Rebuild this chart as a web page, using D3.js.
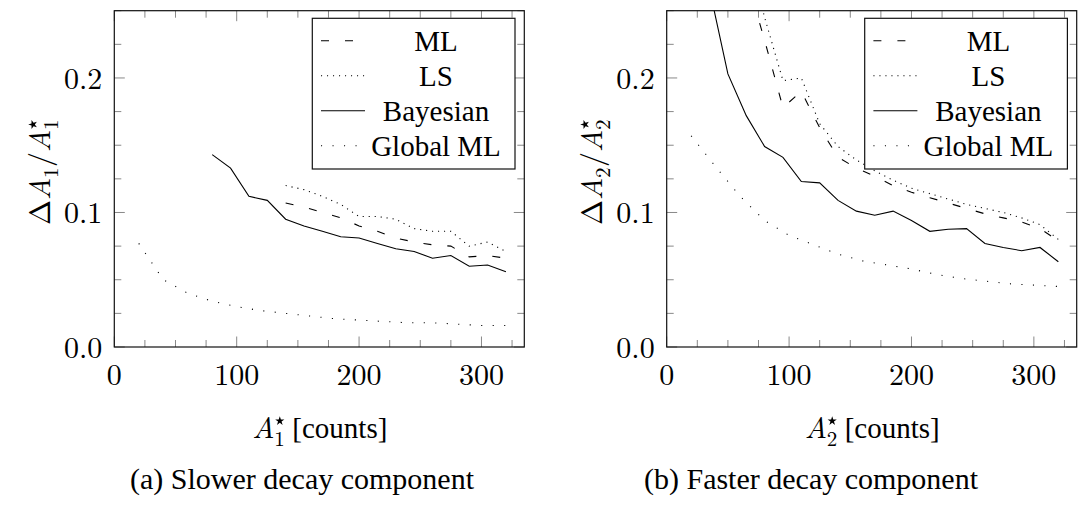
<!DOCTYPE html>
<html>
<head>
<meta charset="utf-8">
<script src="https://cdn.jsdelivr.net/npm/d3@7"></script>
<style>
  body { margin: 0; background: #fff; }
  svg { display: block; }
</style>
</head>
<body>
<svg id="chart" width="1079" height="505"></svg>
<script>
// (a) slower decay component
const slowMLX = [140, 155, 170, 185, 200, 215, 230, 245, 260, 275, 290, 305, 320];
const slowMLY = [0.107, 0.104, 0.100, 0.096, 0.090, 0.086, 0.081, 0.078, 0.076, 0.075, 0.067, 0.068, 0.066];
const slowLSX = [140, 155, 170, 185, 200, 215, 230, 245, 260, 275, 290, 305, 320];
const slowLSY = [0.120, 0.117, 0.112, 0.106, 0.097, 0.097, 0.095, 0.088, 0.086, 0.086, 0.075, 0.078, 0.071];
const slowBayesX = [80, 95, 110, 125, 140, 155, 170, 185, 200, 215, 230, 245, 260, 275, 290, 305, 320];
const slowBayesY = [0.143, 0.133, 0.112, 0.109, 0.095, 0.090, 0.086, 0.082, 0.081, 0.077, 0.073, 0.071, 0.066, 0.068, 0.060, 0.061, 0.056];
const slowGlobalX = [20, 40, 60, 80, 100, 120, 140, 160, 180, 200, 220, 240, 260, 280, 300, 320];
const slowGlobalY = [0.077, 0.050, 0.040, 0.034, 0.030, 0.027, 0.025, 0.023, 0.021, 0.020, 0.019, 0.018, 0.018, 0.017, 0.016, 0.016];

// (b) faster decay component
const fastMLX = [65, 80, 95, 110, 125, 140, 155, 170, 185, 200, 215, 230, 245, 260, 275, 290, 305, 320];
const fastMLY = [0.275, 0.228, 0.178, 0.190, 0.163, 0.141, 0.133, 0.127, 0.120, 0.115, 0.111, 0.107, 0.103, 0.099, 0.096, 0.093, 0.088, 0.079];
const fastLSX = [65, 80, 95, 110, 125, 140, 155, 170, 185, 200, 215, 230, 245, 260, 275, 290, 305, 320];
const fastLSY = [0.300, 0.245, 0.198, 0.200, 0.166, 0.149, 0.139, 0.131, 0.124, 0.118, 0.114, 0.110, 0.106, 0.103, 0.100, 0.096, 0.091, 0.080];
const fastBayesX = [35, 50, 65, 80, 95, 110, 125, 140, 155, 170, 185, 200, 215, 230, 245, 260, 275, 290, 305, 320];
const fastBayesY = [0.266, 0.203, 0.172, 0.149, 0.141, 0.123, 0.122, 0.109, 0.101, 0.098, 0.101, 0.094, 0.086, 0.0875, 0.088, 0.077, 0.074, 0.0716, 0.074, 0.0634];
const fastGlobalX = [20, 40, 60, 80, 100, 120, 140, 160, 180, 200, 220, 240, 260, 280, 300, 320];
const fastGlobalY = [0.157, 0.134, 0.112, 0.094, 0.083, 0.076, 0.069, 0.064, 0.061, 0.058, 0.054, 0.051, 0.049, 0.047, 0.046, 0.045];

const legendNames = ['ML', 'LS', 'Bayesian', 'Global ML'];
const xTicks = [0, 100, 200, 300];
const yTicks = [0, 0.1, 0.2];
const captions = ['(a) Slower decay component', '(b) Faster decay component'];

const styles = [
    { dash: '8,16' },      // ML, loosely dashed
    { dash: '1.1,4.9' },   // LS, dotted
    { dash: null },        // Bayesian, solid
    { dash: '1.1,10.4' }   // Global ML, loosely dotted
];

const panels = [
    {
        left: 114.3, idx: '1', yLabelX: 50, captionX: 302,
        series: [[slowMLX, slowMLY], [slowLSX, slowLSY], [slowBayesX, slowBayesY], [slowGlobalX, slowGlobalY]]
    },
    {
        left: 666.7, idx: '2', yLabelX: 602, captionX: 811,
        series: [[fastMLX, fastMLY], [fastLSX, fastLSY], [fastBayesX, fastBayesY], [fastGlobalX, fastGlobalY]]
    }
];

const MATH = '"Latin Modern Roman"';
const TEXT = '"Liberation Serif"';
const svg = d3.select('#chart');
const plotTop = 10.7, plotBottom = 347, plotW = 410;
const fs = 30;
const star = d3.symbol(d3.symbolStar, 26);

// subscript index with a star stacked above it (as in A^\star_i)
function stacked(g, xPos, yPos, sub) {
    g.append('text').attr('x', xPos).attr('y', yPos + 8).attr('font-family', MATH)
        .attr('font-size', fs * 0.7).text(sub);
    g.append('path').attr('d', star).attr('fill', '#000')
        .attr('transform', `translate(${xPos + 5.5},${yPos - 17})`);
}

panels.forEach((p, pi) => {
    const x = d3.scaleLinear().domain([0, 335]).range([p.left, p.left + plotW]);
    const y = d3.scaleLinear().domain([0, 0.25]).range([plotBottom, plotTop]);
    const g = svg.append('g');

    const clipId = `clip${pi}`;
    svg.append('clipPath').attr('id', clipId)
        .append('rect').attr('x', p.left).attr('y', plotTop).attr('width', plotW).attr('height', plotBottom - plotTop);

    // ticks on all four sides, pointing inwards
    const xMinor = d3.range(0, 335, 25);
    const yMinor = d3.range(0, 0.2501, 0.025);
    const tickG = g.append('g').attr('stroke', '#888').attr('stroke-width', 1);
    xMinor.forEach(v => {
        const len = v % 100 === 0 ? 10.5 : 7;
        tickG.append('line').attr('x1', x(v)).attr('x2', x(v)).attr('y1', plotBottom).attr('y2', plotBottom - len);
        tickG.append('line').attr('x1', x(v)).attr('x2', x(v)).attr('y1', plotTop).attr('y2', plotTop + len);
    });
    yMinor.forEach(v => {
        const major = Math.abs(v * 10 - Math.round(v * 10)) < 1e-6;
        const len = major ? 10.5 : 7;
        tickG.append('line').attr('x1', p.left).attr('x2', p.left + len).attr('y1', y(v)).attr('y2', y(v));
        tickG.append('line').attr('x1', p.left + plotW).attr('x2', p.left + plotW - len).attr('y1', y(v)).attr('y2', y(v));
    });

    // tick labels
    g.selectAll('.xt').data(xTicks).enter().append('text')
        .attr('x', d => x(d)).attr('y', 385).attr('text-anchor', 'middle')
        .attr('font-family', MATH).attr('font-size', fs).text(d => d);
    g.selectAll('.yt').data(yTicks).enter().append('text')
        .attr('x', p.left - 12).attr('y', d => y(d) + 11).attr('text-anchor', 'end')
        .attr('font-family', MATH).attr('font-size', fs).text(d => d.toFixed(1));

    // series
    const line = d3.line().x(d => x(d[0])).y(d => y(d[1]));
    const lines = g.append('g').attr('clip-path', `url(#${clipId})`);
    p.series.forEach((s, si) => {
        const pts = s[0].map((v, i) => [v, s[1][i]]);
        lines.append('path').datum(pts)
            .attr('d', line)
            .attr('fill', 'none')
            .attr('stroke', '#000')
            .attr('stroke-width', 1.1)
            .attr('stroke-dasharray', styles[si].dash);
    });

    // frame
    g.append('rect').attr('x', p.left).attr('y', plotTop).attr('width', plotW).attr('height', plotBottom - plotTop)
        .attr('fill', 'none').attr('stroke', '#111').attr('stroke-width', 1.2);

    // legend
    const lx = p.left + plotW - 212, ly = 18.3;
    const leg = g.append('g');
    leg.append('rect').attr('x', lx).attr('y', ly).attr('width', 202.7).attr('height', 150.7)
        .attr('fill', '#fff').attr('stroke', '#111').attr('stroke-width', 1.2);
    legendNames.forEach((name, i) => {
        const cy = ly + 22.4 + i * 35;
        leg.append('line').attr('x1', lx + 8.7).attr('x2', lx + 52.7).attr('y1', cy).attr('y2', cy)
            .attr('stroke', '#000').attr('stroke-width', 1.1).attr('stroke-dasharray', styles[i].dash);
        leg.append('text').attr('x', lx + 123.7).attr('y', cy + 10).attr('text-anchor', 'middle')
            .attr('font-family', TEXT).attr('font-size', 29).text(name);
    });

    // x label: A*_i [counts]
    const cx = p.left + plotW / 2, by = 438;
    g.append('text').attr('x', cx - 67).attr('y', by).attr('font-family', MATH).attr('font-size', fs)
        .attr('font-style', 'italic').text('A');
    stacked(g, cx - 45, by, p.idx);
    g.append('text').attr('x', cx - 27).attr('y', by).attr('font-family', TEXT).attr('font-size', 29).text('[counts]');

    // y label: ΔA_i / A*_i (rotated)
    const yl = g.append('g').attr('transform', `translate(${p.yLabelX},172) rotate(-90)`);
    yl.append('text').attr('x', -53).attr('y', 0).attr('font-family', MATH).attr('font-size', fs).text('\u0394');
    yl.append('text').attr('x', -28).attr('y', 0).attr('font-family', MATH).attr('font-size', fs)
        .attr('font-style', 'italic').text('A');
    yl.append('text').attr('x', -6).attr('y', 8).attr('font-family', MATH).attr('font-size', fs * 0.7).text(p.idx);
    yl.append('text').attr('x', 5).attr('y', 0).attr('font-family', MATH).attr('font-size', fs).text('/');
    yl.append('text').attr('x', 20).attr('y', 0).attr('font-family', MATH).attr('font-size', fs)
        .attr('font-style', 'italic').text('A');
    stacked(yl, 42, 0, p.idx);

    // caption
    g.append('text').attr('x', p.captionX).attr('y', 489).attr('text-anchor', 'middle')
        .attr('font-family', TEXT).attr('font-size', 30).text(captions[pi]);
});
</script>
</body>
</html>
